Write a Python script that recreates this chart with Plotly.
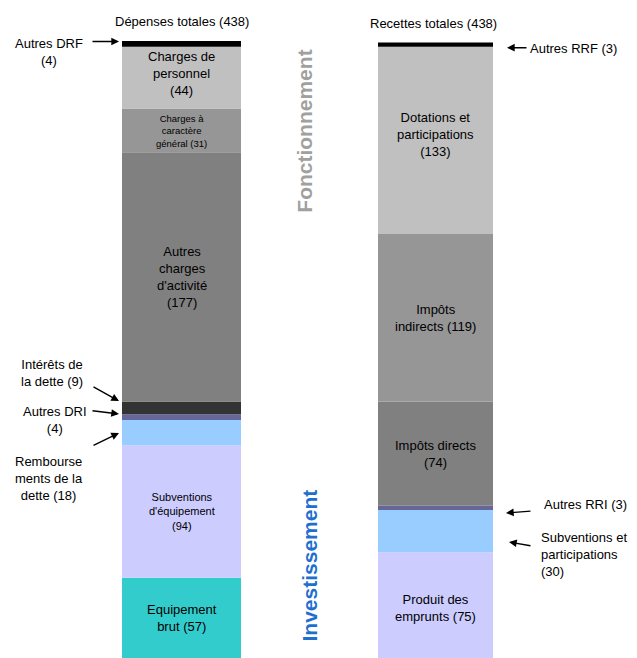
import plotly.graph_objects as go
import numpy as np

# ---------------- data ----------------
dep_labels = ["Equipement<br>brut (57)", "Subventions<br>d'équipement<br>(94)",
              "", "", "", "Autres<br>charges<br>d'activité<br>(177)",
              "Charges à<br>caractère<br>général (31)", "Charges de<br>personnel<br>(44)", ""]
dep_names = ["Equipement brut", "Subventions d'équipement", "Remboursements de la dette",
             "Autres DRI", "Intérêts de la dette", "Autres charges d'activité",
             "Charges à caractère général", "Charges de personnel", "Autres DRF"]
dep_values = [57, 94, 18, 4, 9, 177, 31, 44, 4]
dep_colors = ["#33CCCC", "#CCCCFF", "#99CCFF", "#666699", "#333333", "#808080",
              "#969696", "#C0C0C0", "#000000"]

rec_labels = ["Produit des<br>emprunts (75)", "", "", "Impôts directs<br>(74)",
              "Impôts<br>indirects (119)", "Dotations et<br>participations<br>(133)", ""]
rec_names = ["Produit des emprunts", "Subventions et participations", "Autres RRI",
             "Impôts directs", "Impôts indirects", "Dotations et participations", "Autres RRF"]
rec_values = [75, 30, 3, 74, 119, 133, 3]
rec_colors = ["#CCCCFF", "#99CCFF", "#666699", "#808080", "#969696", "#C0C0C0", "#000000"]

titles = ["Dépenses totales (438)", "Recettes totales (438)"]
TOTAL = 438

# ---------------- layout constants ----------------
W, H = 637, 658
TOP = 41
FONT = "Liberation Sans, Arial, sans-serif"
scale = (H - TOP) / TOTAL

# per-label font size and vertical pixel nudges (style only)
label_size = {"Charges à caractère général": 9.5, "Subventions d'équipement": 11}
label_shift = {"Charges de personnel": 4, "Charges à caractère général": -1,
               "Dotations et participations": 6, "Produit des emprunts": -3}


def py(p):
    """pixel row -> data y"""
    return (H - p) / scale


def ppaper(p):
    return (H - p) / (H - TOP)


fig = go.Figure()


def add_bar(xc, width, names, values, colors):
    base = np.concatenate([[0], np.cumsum(values)[:-1]])
    for n, v, c, b in zip(names, values, colors, base):
        fig.add_trace(go.Bar(x=[xc], y=[v], base=[b], width=[width], name=n,
                             marker=dict(color=c, line=dict(width=0)),
                             showlegend=False, hoverinfo="name+y"))
    return base


dep_base = add_bar(181.5, 119, dep_names, dep_values, dep_colors)
rec_base = add_bar(435.5, 115, rec_names, rec_values, rec_colors)

ann = []
for xc, labels, names, values, base in [(181.5, dep_labels, dep_names, dep_values, dep_base),
                                        (435.5, rec_labels, rec_names, rec_values, rec_base)]:
    for lab, n, v, b in zip(labels, names, values, base):
        if lab:
            ann.append(dict(x=xc, y=b + v / 2, text=lab, showarrow=False,
                            yshift=label_shift.get(n, 0),
                            font=dict(size=label_size.get(n, 13), color="#000000", family=FONT)))

# titles
ann.append(dict(x=181.7, y=ppaper(21.5), yref="paper", yanchor="middle", xanchor="center",
                text=titles[0], showarrow=False,
                font=dict(size=13, family=FONT, color="#000")))
ann.append(dict(x=433, y=ppaper(24), yref="paper", yanchor="middle", xanchor="center",
                text=titles[1], showarrow=False,
                font=dict(size=13, family=FONT, color="#000")))

# outside labels
outside = [
    ("Autres DRF<br>(4)", 49, 51.5, "center", "center"),
    ("Intérêts de<br>la dette (9)", 52, 372.5, "center", "center"),
    ("Autres DRI<br>(4)", 55, 419.5, "center", "center"),
    ("Rembourse<br>ments de la<br>dette (18)", 49, 478.5, "center", "center"),
    ("Autres RRF (3)", 528, 48, "left", "left"),
    ("Autres RRI (3)", 542, 504, "left", "left"),
    ("Subventions et<br>participations<br>(30)", 539, 554.5, "left", "left"),
]
for t, x, y, xa, al in outside:
    ann.append(dict(x=x, y=py(y), text=t, showarrow=False, xanchor=xa, align=al,
                    font=dict(size=13, family=FONT, color="#000")))

# arrows (head, tail)
arrows = [
    ((119, 41.5), (91, 41.5)),
    ((119, 401), (92, 386)),
    ((119, 414), (91, 410.5)),
    ((119, 433), (92, 446)),
    ((507, 47.7), (528, 47.7)),
    ((506, 513), (532, 511)),
    ((509, 542), (532, 546)),
]
for (hx, hy), (tx, ty) in arrows:
    ann.append(dict(x=hx, y=py(hy), ax=tx, ay=py(ty), axref="x", ayref="y",
                    text="", showarrow=True, arrowhead=2, arrowsize=1.1,
                    arrowwidth=1.4, arrowcolor="#000", standoff=0, startstandoff=0))

# section labels
ann.append(dict(x=305, y=py(131.7), text="<b>Fonctionnement</b>", textangle=-90,
                showarrow=False, font=dict(size=21, family=FONT, color="#A0A0A0")))
ann.append(dict(x=308.5, y=py(566), text="<b>Investissement</b>", textangle=-90,
                showarrow=False, font=dict(size=21, family=FONT, color="#1F6FD0")))

fig.update_layout(
    width=W, height=H,
    margin=dict(l=0, r=0, t=TOP, b=0),
    paper_bgcolor="white", plot_bgcolor="white",
    barmode="overlay",
    xaxis=dict(range=[0, W], visible=False, fixedrange=True),
    yaxis=dict(range=[0, TOTAL], visible=False, fixedrange=True),
    annotations=ann,
    showlegend=False,
)

fig.write_html("out.html")
